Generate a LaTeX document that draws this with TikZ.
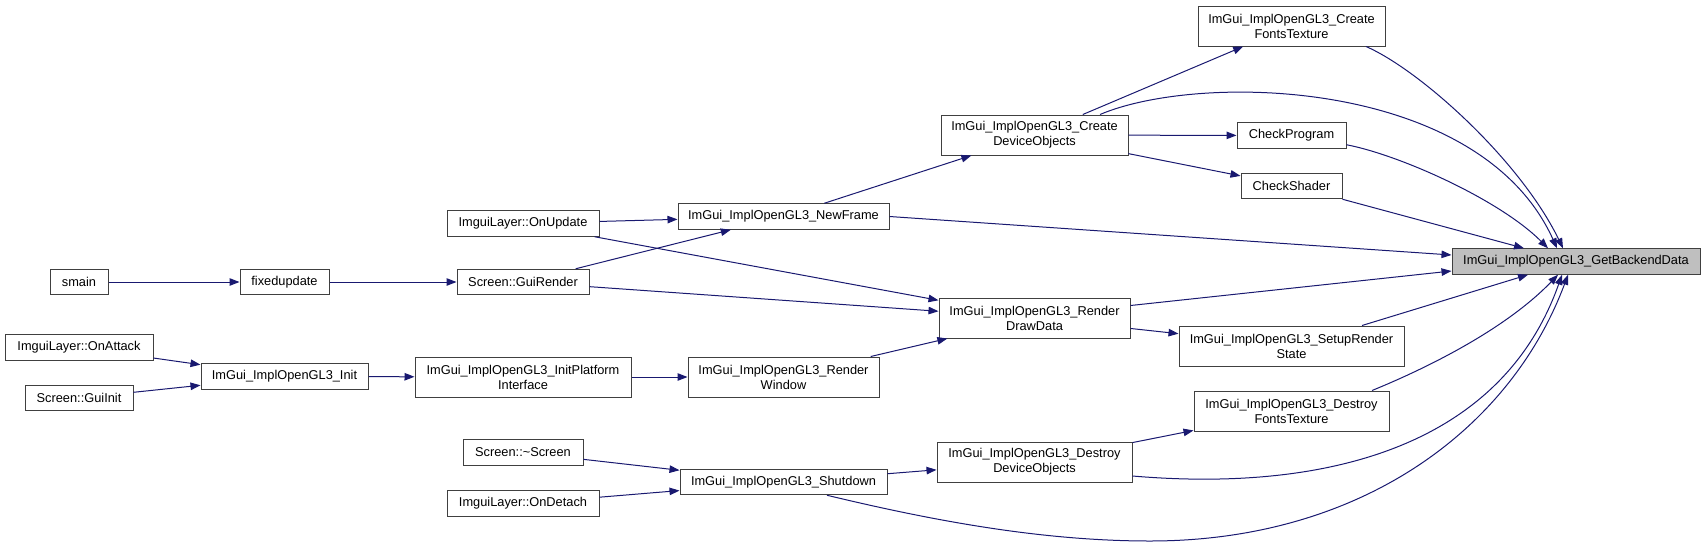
\documentclass[tikz,border=0pt]{standalone}
\usepackage{fontspec}
\setmainfont{Liberation Sans}
\usetikzlibrary{arrows.meta}
\definecolor{edgec}{HTML}{191970}
\definecolor{boxc}{HTML}{404040}
\definecolor{hlfill}{HTML}{BFBFBF}
\tikzset{
  nbox/.style={draw=boxc, line width=1pt, fill=white, inner sep=0pt, align=center,
    font=\fontsize{12.8}{15}\selectfont},
  one/.style={minimum height=25.5pt},
  two/.style={minimum height=40pt},
  edge/.style={draw=edgec, line width=1pt, -{Triangle[length=10pt,width=7.5pt]}},
}
\begin{document}
\begin{tikzpicture}[x=1pt,y=-1pt]
\useasboundingbox (0,0) rectangle (1705,547);
% column 1
\node[nbox,one,minimum width=58pt]  (smain)  at (79,282)    {smain};
\node[nbox,one,minimum width=148pt] (attack) at (79,347.5)  {ImguiLayer::OnAttack};
\node[nbox,one,minimum width=108pt] (guiinit) at (79,398)   {Screen::GuiInit};
% column 2
\node[nbox,one,minimum width=89pt]  (fixed)  at (284.5,282) {fixedupdate};
\node[nbox,one,minimum width=167pt] (init)   at (284.5,376.5) {ImGui\_ImplOpenGL3\_Init};
% column 3
\node[nbox,one,minimum width=152pt] (onupd)  at (523,223.5) {ImguiLayer::OnUpdate};
\node[nbox,one,minimum width=132pt] (guirender) at (523,282) {Screen::GuiRender};
\node[nbox,two,minimum width=216pt] (initpf) at (523,377)   {ImGui\_ImplOpenGL3\_InitPlatform\\Interface};
\node[nbox,one,minimum width=120pt] (dtor)   at (523,452.5) {Screen::\textasciitilde Screen};
\node[nbox,one,minimum width=152pt] (detach) at (523,503.5) {ImguiLayer::OnDetach};
% column 4
\node[nbox,one,minimum width=211pt] (newframe) at (783.5,216.5) {ImGui\_ImplOpenGL3\_NewFrame};
\node[nbox,two,minimum width=191pt] (renderwin) at (783.5,377) {ImGui\_ImplOpenGL3\_Render\\Window};
\node[nbox,one,minimum width=207pt] (shutdown) at (783.5,482) {ImGui\_ImplOpenGL3\_Shutdown};
% column 5
\node[nbox,two,minimum width=187pt] (cdo) at (1034.5,135) {ImGui\_ImplOpenGL3\_Create\\DeviceObjects};
\node[nbox,two,minimum width=191pt] (rdd) at (1034.5,318) {ImGui\_ImplOpenGL3\_Render\\DrawData};
\node[nbox,two,minimum width=195pt] (ddo) at (1034.5,462) {ImGui\_ImplOpenGL3\_Destroy\\DeviceObjects};
% column 6
\node[nbox,two,minimum width=187pt] (cft) at (1291.5,26)  {ImGui\_ImplOpenGL3\_Create\\FontsTexture};
\node[nbox,one,minimum width=109pt] (cprog) at (1291.5,135.5) {CheckProgram};
\node[nbox,one,minimum width=101pt] (cshader) at (1291.5,186) {CheckShader};
\node[nbox,two,minimum width=225pt] (srs) at (1291.5,346) {ImGui\_ImplOpenGL3\_SetupRender\\State};
\node[nbox,two,minimum width=195pt] (dft) at (1291.5,411) {ImGui\_ImplOpenGL3\_Destroy\\FontsTexture};
% target
\node[nbox,one,minimum width=248pt,fill=hlfill] (gbd) at (1576,261.5) {ImGui\_ImplOpenGL3\_GetBackendData};

% straight edges
\draw[edge] (smain) -- (fixed);
\draw[edge] (fixed) -- (guirender);
\draw[edge] (attack) -- (init);
\draw[edge] (guiinit) -- (init);
\draw[edge] (init) -- (initpf);
\draw[edge] (initpf) -- (renderwin);
\draw[edge] (onupd) -- (newframe);
\draw[edge] (onupd) -- (rdd);
\draw[edge] (guirender) -- (newframe);
\draw[edge] (guirender) -- (rdd);
\draw[edge] (renderwin) -- (rdd);
\draw[edge] (dtor) -- (shutdown);
\draw[edge] (detach) -- (shutdown);
\draw[edge] (shutdown) -- (ddo);
\draw[edge] (newframe) -- (cdo);
\draw[edge] (cdo) -- (cft);
\draw[edge] (cdo) -- (cprog);
\draw[edge] (cdo) -- (cshader);
\draw[edge] (rdd) -- (srs);
\draw[edge] (ddo) -- (dft);
% edges into GetBackendData
\draw[edge] (newframe.east) -- ([yshift=6.5pt]gbd.west);
\draw[edge] ([yshift=-8pt]rdd.north east) -- ([yshift=-9.5pt]gbd.west);
\draw[edge] (cshader.south east) -- ([xshift=-52pt]gbd.north);
\draw[edge] ([xshift=70.5pt]srs.north) -- ([xshift=-48pt]gbd.south);
\draw[edge] ([xshift=74.5pt]cft.south) .. controls (1420,70) and (1520,160) .. ([xshift=-13pt]gbd.north);
\draw[edge] ([xshift=65.5pt]cdo.north) .. controls (1200,72) and (1480,78) .. ([xshift=-19pt]gbd.north);
\draw[edge] ([yshift=4pt]cprog.south east) .. controls (1400,155) and (1500,200) .. ([xshift=-28pt]gbd.north);
\draw[edge] ([xshift=80.5pt]dft.north) .. controls (1410,375) and (1500,335) .. ([xshift=-18pt]gbd.south);
\draw[edge] ([yshift=-14pt]ddo.east) .. controls (1320,492) and (1500,450) .. ([xshift=-14pt]gbd.south);
\draw[edge] ([xshift=43.5pt]shutdown.south) .. controls (930,520) and (1040,541) .. (1150,541)
  .. controls (1360,541) and (1510,430) .. ([xshift=-8pt]gbd.south);
\end{tikzpicture}
\end{document}
